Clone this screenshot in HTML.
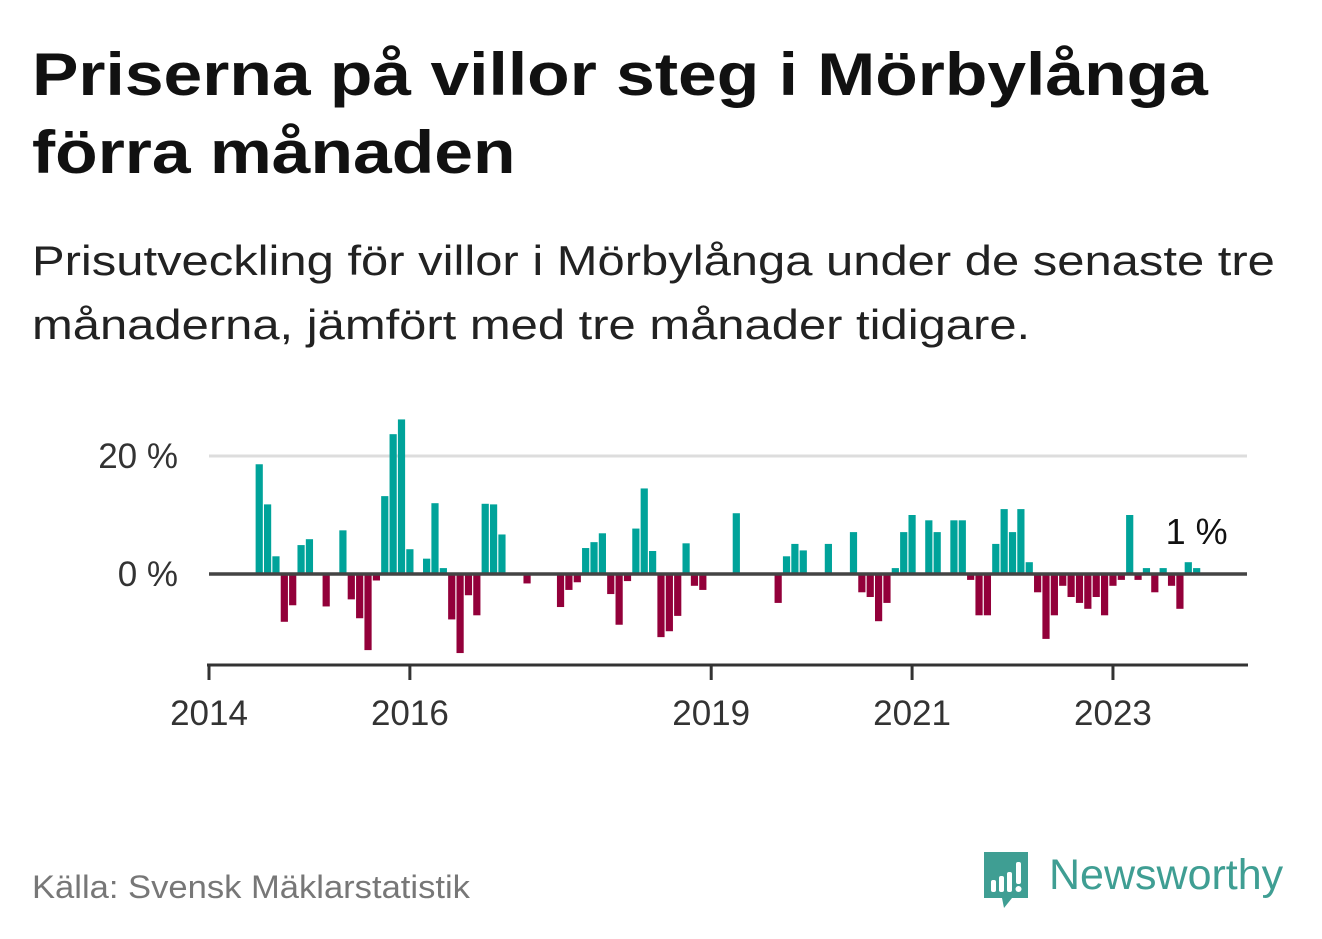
<!DOCTYPE html>
<html><head><meta charset="utf-8">
<style>
body{margin:0;width:1322px;height:939px;background:#fff;overflow:hidden;font-family:"Liberation Sans",sans-serif;position:relative}
.t{position:absolute;left:32px;font-weight:bold;font-size:60px;color:#111;white-space:nowrap;line-height:78px;transform:scaleX(1.16);transform-origin:0 0}
.s{position:absolute;left:32px;font-size:42px;color:#222;white-space:nowrap;line-height:64px;transform:scaleX(1.165);transform-origin:0 0}
svg{position:absolute;left:0;top:0}
</style></head><body>
<div class="t" style="top:36px">Priserna på villor steg i Mörbylånga<br>förra månaden</div>
<div class="s" style="top:229px">Prisutveckling för villor i Mörbylånga under de senaste tre<br>månaderna, jämfört med tre månader tidigare.</div>
<svg id="chart" width="1322" height="939"></svg>
<div style="position:absolute;left:32px;top:869px;font-size:32px;color:#777;transform:scaleX(1.08);transform-origin:0 0;white-space:nowrap">Källa: Svensk Mäklarstatistik</div>
<div style="position:absolute;left:982px;top:850px;width:320px;height:60px">
<svg width="50" height="60" style="left:0;top:0"><path d="M2 2h44v46H30l-8 10-2-10H2z" fill="#3f9e93"/><rect x="9" y="30" width="5" height="12" rx="2" fill="#fff"/><rect x="17" y="26" width="5" height="16" rx="2" fill="#fff"/><rect x="25" y="22" width="5" height="20" rx="2" fill="#fff"/><rect x="34" y="12" width="5" height="22" rx="2" fill="#fff"/><circle cx="36.5" cy="39" r="3" fill="#fff"/></svg>
<div style="position:absolute;left:67px;top:0;font-size:43px;color:#3f9e93;line-height:50px">Newsworthy</div>
</div>
<script>
const months=[6,7,8,9,10,11,12,14,16,17,18,19,20,21,22,23,24,26,27,28,29,30,31,32,33,34,35,38,42,43,44,45,46,47,48,49,50,51,52,53,54,55,56,57,58,59,63,68,69,70,71,74,77,78,79,80,81,82,83,84,86,87,89,90,91,92,93,94,95,96,97,98,99,100,101,102,103,104,105,106,107,108,109,110,111,112,113,114,115,116,117,118];
const values=[18.6,11.8,3.0,-8.1,-5.3,4.9,5.9,-5.5,7.4,-4.3,-7.5,-12.9,-1.1,13.2,23.7,26.2,4.2,2.6,12.0,1.0,-7.7,-13.4,-3.6,-7.0,11.9,11.8,6.7,-1.6,-5.6,-2.7,-1.4,4.4,5.4,6.9,-3.4,-8.6,-1.2,7.7,14.5,3.9,-10.7,-9.7,-7.1,5.2,-2.0,-2.7,10.3,-4.9,3.0,5.1,4.0,5.1,7.1,-3.1,-3.9,-8.0,-4.9,1.0,7.1,10.0,9.1,7.1,9.1,9.1,-1.0,-7.0,-7.0,5.1,11.0,7.1,11.0,2.0,-3.1,-11.0,-7.0,-2.0,-3.9,-4.9,-5.9,-3.9,-7.0,-2.0,-1.0,10.0,-1.0,1.0,-3.1,1.0,-2.0,-5.9,2.0,1.0];
const yTicks=[0,20];
const yTickLabels=["0 %","20 %"];
const xTickYears=[2014,2016,2019,2021,2023];
const lastLabel="1 %";
const svg=document.getElementById('chart');
const NS='http://www.w3.org/2000/svg';
const x=m=>209+m*8.37;
const y=v=>574-v*5.9;
function mk(t,a){const e=document.createElementNS(NS,t);for(const k in a)e.setAttribute(k,a[k]);svg.appendChild(e);return e;}
yTicks.forEach((v,i)=>{
  if(v!==0){const g=mk('line',{x1:209,x2:1247,y1:y(v),y2:y(v),stroke:'#ddd','stroke-width':3});
  
  }
  const t=mk('text',{x:178,y:y(v)+12,'text-anchor':'end','font-size':35,fill:'#333','font-family':'Liberation Sans, sans-serif'});
  
  
  t.textContent=yTickLabels[i];
});
months.forEach((m,i)=>{
  const v=values[i];
  const r=mk('rect',{x:x(m)-3.6,width:7.2,y:Math.min(y(v),y(0)),height:Math.abs(y(v)-y(0)),fill:v>=0?'#00a39a':'#93003a'});
  
  
});
const z=mk('line',{x1:209,x2:1247,y1:y(0),y2:y(0),stroke:'#444','stroke-width':3.5});


const ax=mk('line',{x1:207,x2:1248,y1:665,y2:665,stroke:'#333','stroke-width':3});


xTickYears.forEach(yr=>{
  const px=x((yr-2014)*12);
  const tk=mk('line',{x1:px,x2:px,y1:664,y2:680,stroke:'#333','stroke-width':3});
  
  
  const t=mk('text',{x:px,y:725,'text-anchor':'middle','font-size':35,fill:'#333','font-family':'Liberation Sans, sans-serif'});
  
  
  t.textContent=yr;
});
const lm=months[months.length-1];
const ll=mk('text',{x:x(lm),y:y(values[values.length-1])-24,'text-anchor':'middle','font-size':36,fill:'#111','font-family':'Liberation Sans, sans-serif'});


ll.textContent=lastLabel;
</script>
</body></html>
